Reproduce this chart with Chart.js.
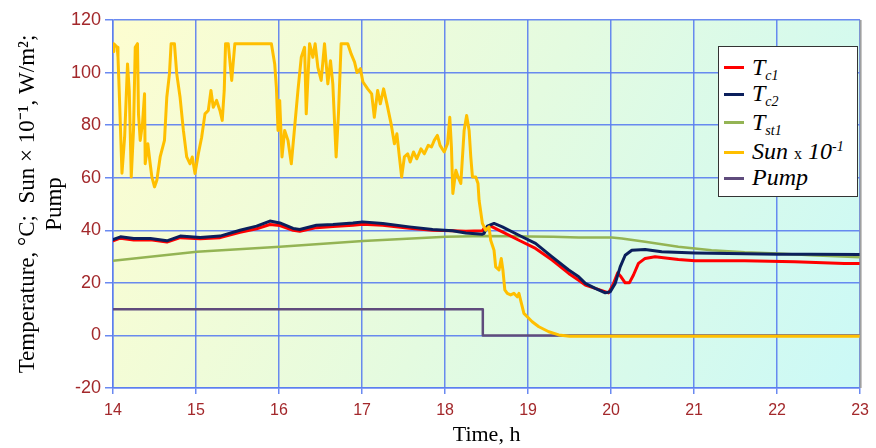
<!DOCTYPE html>
<html>
<head>
<meta charset="utf-8">
<script src="https://cdn.jsdelivr.net/npm/chart.js@4/dist/chart.umd.min.js"></script>
<style>
  html, body { margin: 0; padding: 0; background: #ffffff; }
  #wrap { position: relative; width: 876px; height: 448px; }
  #legend { position: absolute; left: 718px; top: 46px; width: 138px; height: 149px;
    border: 1.5px solid #333; background: #ffffff; font-family: "Liberation Serif", "DejaVu Serif", serif; }
  .item { position: absolute; left: 0; height: 26px; width: 138px; }
  .sw { position: absolute; left: 5px; width: 20px; height: 3px; }
  .lbl { position: absolute; left: 33px; font-style: italic; font-size: 24px; line-height: 24px; white-space: nowrap; color: #000; font-family: "Liberation Serif", serif; }
  .lbl sub { font-size: 14px; vertical-align: -5px; line-height: 0; }
  .lbl sup { font-size: 14px; vertical-align: 8px; line-height: 0; }
  .lbl .x { font-style: normal; font-size: 16px; }
</style>
</head>
<body>
<div id="wrap">
  <canvas id="c" width="876" height="448"></canvas>
  <div id="legend"></div>
</div>
<script>
// ---- data ----
const xTicks = [14, 15, 16, 17, 18, 19, 20, 21, 22, 23];
const yTicks = [-20, 0, 20, 40, 60, 80, 100, 120];

const seriesNames = ["Tc1", "Tc2", "Tst1", "Sun x 10-1", "Pump"];

const tc1Time = [14.0, 14.09, 14.25, 14.45, 14.65, 14.81, 15.05, 15.29, 15.53, 15.73, 15.89, 16.01, 16.17, 16.25, 16.45, 16.65, 16.89, 17.01, 17.25, 17.57, 17.85, 18.09, 18.25, 18.45, 18.47, 18.55, 18.69, 18.89, 19.09, 19.29, 19.49, 19.61, 19.69, 19.81, 19.97, 20.03, 20.08, 20.12, 20.17, 20.22, 20.27, 20.33, 20.41, 20.53, 20.81, 21.01, 21.61, 22.21, 22.81, 23.0];
const tc1Value = [36.0, 37.0, 36.3, 36.4, 35.5, 37.2, 36.8, 37.2, 39.2, 40.6, 42.2, 41.8, 40.0, 39.6, 41.0, 41.4, 41.9, 42.3, 41.9, 40.8, 40.0, 39.8, 39.6, 39.8, 40.7, 41.6, 39.4, 36.2, 33.1, 28.7, 23.6, 21.0, 19.2, 17.9, 16.2, 19.8, 23.8, 22.3, 20.0, 20.0, 23.0, 27.4, 29.3, 29.9, 28.9, 28.4, 28.4, 28.0, 27.4, 27.4];

const tc2Time = [14.0, 14.09, 14.25, 14.45, 14.65, 14.81, 15.05, 15.29, 15.53, 15.73, 15.89, 16.01, 16.17, 16.25, 16.45, 16.65, 16.89, 17.01, 17.25, 17.57, 17.85, 18.09, 18.25, 18.45, 18.47, 18.51, 18.59, 18.69, 18.89, 19.09, 19.29, 19.49, 19.61, 19.69, 19.81, 19.93, 19.99, 20.05, 20.11, 20.17, 20.25, 20.41, 20.61, 21.01, 21.41, 22.01, 22.41, 23.0];
const tc2Value = [36.5, 37.5, 36.9, 36.9, 36.0, 37.8, 37.3, 37.8, 40.0, 41.6, 43.5, 42.8, 40.7, 40.3, 41.9, 42.2, 42.8, 43.2, 42.6, 41.3, 40.3, 39.8, 39.0, 38.5, 38.8, 41.6, 42.6, 41.3, 38.1, 35.0, 29.9, 24.9, 22.3, 19.8, 17.9, 16.2, 16.6, 19.8, 26.1, 30.5, 32.4, 32.7, 31.8, 31.4, 31.2, 30.9, 30.9, 30.8];

const tst1Time = [14.0, 15.01, 16.01, 17.01, 18.01, 18.49, 19.3, 19.61, 20.01, 20.13, 20.41, 20.81, 21.21, 21.61, 22.01, 22.41, 23.0];
const tst1Value = [28.4, 31.8, 33.7, 35.9, 37.5, 37.8, 37.5, 37.3, 37.3, 36.9, 35.6, 33.7, 32.4, 31.6, 31.2, 30.5, 29.7];

const sunTime = [14.0, 14.01, 14.05, 14.06, 14.076, 14.108, 14.14, 14.175, 14.196, 14.22, 14.247, 14.268, 14.295, 14.307, 14.328, 14.355, 14.38, 14.388, 14.42, 14.448, 14.468, 14.5, 14.528, 14.568, 14.62, 14.648, 14.68, 14.7, 14.74, 14.768, 14.808, 14.848, 14.888, 14.928, 14.955, 14.988, 15.028, 15.068, 15.108, 15.148, 15.18, 15.208, 15.248, 15.288, 15.316, 15.34, 15.356, 15.388, 15.43, 15.468, 15.908, 15.948, 15.968, 15.988, 16.008, 16.036, 16.068, 16.108, 16.148, 16.188, 16.228, 16.268, 16.308, 16.328, 16.368, 16.408, 16.435, 16.468, 16.508, 16.548, 16.588, 16.62, 16.648, 16.688, 16.716, 16.748, 16.828, 16.87, 16.91, 16.94, 16.98, 17.01, 17.068, 17.116, 17.148, 17.188, 17.22, 17.26, 17.3, 17.35, 17.39, 17.42, 17.45, 17.477, 17.51, 17.55, 17.58, 17.62, 17.66, 17.71, 17.75, 17.797, 17.837, 17.87, 17.908, 17.94, 17.99, 18.03, 18.057, 18.077, 18.094, 18.13, 18.157, 18.19, 18.23, 18.26, 18.29, 18.31, 18.33, 18.37, 18.397, 18.41, 18.45, 18.49, 18.53, 18.55, 18.59, 18.61, 18.65, 18.677, 18.697, 18.72, 18.75, 18.79, 18.83, 18.87, 18.89, 18.92, 18.95, 18.99, 19.05, 19.13, 19.25, 19.37, 19.5, 23.0];
const sunValue = [108, 111, 109.6, 106, 92, 61.7, 75.4, 103.3, 93, 60.3, 78, 109.6, 111, 84.3, 74.2, 80.5, 91.9, 65.3, 72.9, 65.3, 60.3, 56.5, 59, 67.9, 74.2, 90.6, 99.5, 111, 111, 99.5, 90.6, 78, 67.9, 65.3, 67.9, 61.6, 69.1, 75.4, 84.3, 85.6, 93.2, 86.8, 89.4, 85.6, 81.8, 93.2, 111, 111, 97, 111, 111, 103.3, 94.4, 78, 89.4, 67.9, 78, 74.2, 65.3, 79.2, 93.2, 105.8, 109.6, 84.3, 111, 105.8, 111, 102, 97, 111, 95.7, 104.5, 95.7, 67.9, 84.3, 111, 111, 107, 104, 100, 101.5, 96.5, 93.8, 91.9, 83, 93.2, 88.1, 93.8, 88.1, 80.5, 72.9, 76.7, 67.9, 60.3, 67.9, 69.1, 66, 69.8, 67.2, 71, 69.1, 72.3, 71.7, 74.2, 76.1, 72.3, 69.8, 72.9, 83, 71.7, 54, 62.8, 60.3, 57.8, 78, 83.7, 78, 67.9, 60.3, 60.3, 57.8, 51.4, 42.6, 40, 41.3, 36.2, 32.4, 26.1, 24.9, 29.3, 24.9, 17.3, 16, 15.4, 16, 14.7, 16, 12.2, 8.4, 7.1, 5.2, 3.3, 1.4, 0.2, -0.3, -0.3];

const pumpTime = [14.0, 18.455, 18.455, 23.0];
const pumpValue = [10, 10, 0, 0];

const colors = ["#ff0000", "#0b1f5c", "#94b454", "#ffbf00", "#5f4b7c"];

// ---- chart ----
function pts(t, v) { return t.map((x, i) => ({ x: x, y: v[i] })); }

const bgPlugin = {
  id: 'bg',
  beforeDraw(chart) {
    const a = chart.chartArea, ctx = chart.ctx;
    const g = ctx.createLinearGradient(a.left, a.top, a.right, a.bottom);
    g.addColorStop(0, '#fdfdd0');
    g.addColorStop(0.5, '#e4fbe0');
    g.addColorStop(1, '#cbf9f7');
    ctx.save();
    ctx.fillStyle = g;
    ctx.fillRect(a.left, a.top, a.right - a.left, a.bottom - a.top);
    ctx.restore();
  },
  afterDraw(chart) {
    const a = chart.chartArea, ctx = chart.ctx;
    ctx.save();
    ctx.strokeStyle = '#a0a0a0';
    ctx.lineWidth = 2;
    ctx.beginPath();
    ctx.moveTo(a.right + 0.5, a.top);
    ctx.lineTo(a.right + 0.5, a.bottom);
    ctx.stroke();
    ctx.restore();
  }
};

const gridColor = 'rgba(90,125,240,0.9)';
const tickColor = '#a3282b';

new Chart(document.getElementById('c'), {
  type: 'line',
  data: {
    datasets: [
      { label: seriesNames[0], data: pts(tc1Time, tc1Value), borderColor: colors[0], borderWidth: 3, order: 2 },
      { label: seriesNames[1], data: pts(tc2Time, tc2Value), borderColor: colors[1], borderWidth: 3, order: 1 },
      { label: seriesNames[2], data: pts(tst1Time, tst1Value), borderColor: colors[2], borderWidth: 2.5, order: 3 },
      { label: seriesNames[3], data: pts(sunTime, sunValue), borderColor: colors[3], borderWidth: 3, order: 0 },
      { label: seriesNames[4], data: pts(pumpTime, pumpValue), borderColor: colors[4], borderWidth: 2.5, order: 4 }
    ]
  },
  options: {
    responsive: false,
    animation: false,
    devicePixelRatio: 1,
    layout: { padding: { left: 0, right: 13, top: 20, bottom: 0 } },
    elements: { point: { radius: 0 }, line: { tension: 0, borderJoinStyle: 'round', borderCapStyle: 'round' } },
    plugins: { legend: { display: false }, tooltip: { enabled: false } },
    scales: {
      x: {
        type: 'linear', min: xTicks[0], max: xTicks[xTicks.length - 1],
        afterBuildTicks(s) { s.ticks = xTicks.map(v => ({ value: v })); },
        afterFit(s) { s.height = 60; },
        grid: { color: gridColor, lineWidth: 1.5, tickLength: 6, tickColor: gridColor },
        border: { color: gridColor, width: 1.5 },
        ticks: { color: tickColor, font: { family: 'Liberation Sans', size: 16 }, padding: 7, maxRotation: 0 },
        title: { display: true, text: 'Time, h', color: '#000', font: { family: 'Liberation Serif', size: 22 }, padding: { top: 0, bottom: 0 } }
      },
      y: {
        min: yTicks[0], max: yTicks[yTicks.length - 1],
        afterBuildTicks(s) { s.ticks = yTicks.map(v => ({ value: v })); },
        afterFit(s) { s.width = 113; },
        grid: { color: gridColor, lineWidth: 1.5, tickLength: 8, tickColor: gridColor },
        border: { color: gridColor, width: 1.5 },
        ticks: { color: tickColor, font: { family: 'Liberation Sans', size: 18 }, padding: 4 },
        title: { display: true, text: ['Temperature, °C;  Sun × 10⁻¹, W/m²;', 'Pump'], color: '#000',
          font: { family: 'Liberation Serif', size: 23, lineHeight: 1.2 }, padding: { top: 14, bottom: 0 } }
      }
    }
  },
  plugins: [bgPlugin]
});

// ---- legend (HTML, with subscripts) ----
const legendHtml = [
  'T<sub>c1</sub>',
  'T<sub>c2</sub>',
  'T<sub>st1</sub>',
  'Sun <span class="x">x</span> 10<sup>-1</sup>',
  'Pump'
];
const legendY = [20.7, 47.3, 75.7, 105, 131.3];
const leg = document.getElementById('legend');
legendHtml.forEach((h, i) => {
  const d = document.createElement('div');
  d.className = 'item';
  d.style.top = (legendY[i] - 13) + 'px';
  d.innerHTML = '<div class="sw" style="top:11.5px;background:' + colors[i] + '"></div><div class="lbl" style="top:0px">' + h + '</div>';
  leg.appendChild(d);
});
</script>
</body>
</html>
